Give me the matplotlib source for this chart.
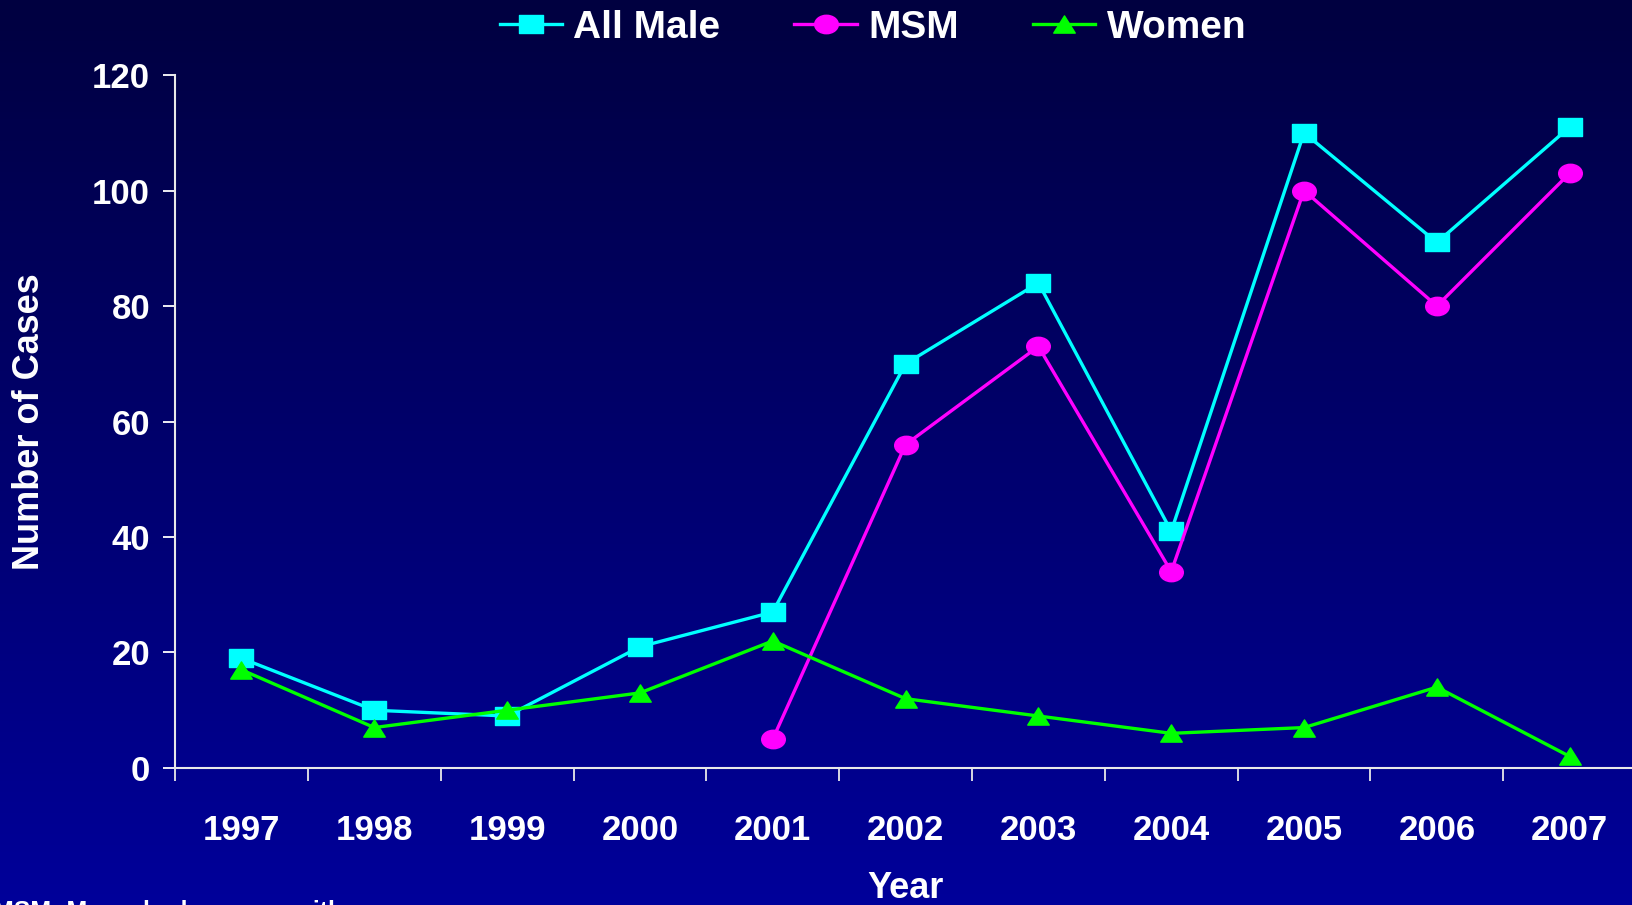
import numpy as np
import matplotlib
matplotlib.use("Agg")
import matplotlib.pyplot as plt
from matplotlib.path import Path
from matplotlib import font_manager

# data
years = ["1997", "1998", "1999", "2000", "2001", "2002", "2003", "2004", "2005", "2006", "2007"]
all_male = [19, 10, 9, 21, 27, 70, 84, 41, 110, 91, 111]
msm_years = ["2001", "2002", "2003", "2004", "2005", "2006", "2007"]
msm = [5, 56, 73, 34, 100, 80, 103]
women = [17, 7, 10, 13, 22, 12, 9, 6, 7, 14, 2]

names = [f.name for f in font_manager.fontManager.ttflist]
fam = ["Liberation Sans Narrow", "Liberation Sans", "DejaVu Sans"]
fam = [f for f in fam if f in names] or ["DejaVu Sans"]
plt.rcParams["font.family"] = fam
plt.rcParams["font.weight"] = "bold"

# slide markers are stretched sideways
circ = Path.unit_circle()
ellipse = Path(circ.vertices * np.array([1, 0.78]), circ.codes)
rect = Path([[-1, -0.77], [1, -0.77], [1, 0.77], [-1, 0.77], [-1, -0.77]],
            [Path.MOVETO, Path.LINETO, Path.LINETO, Path.LINETO, Path.CLOSEPOLY])
tri = Path([[-1, -0.8], [1, -0.8], [0, 0.8], [-1, -0.8]],
           [Path.MOVETO, Path.LINETO, Path.LINETO, Path.CLOSEPOLY])

fig = plt.figure(figsize=(16.33, 9.05), dpi=100)

# background gradient
bg = fig.add_axes([0, 0, 1, 1], zorder=-10)
grad = np.linspace(0, 1, 256).reshape(-1, 1)
top = np.array([0x00, 0x00, 0x40]) / 255
bot = np.array([0x00, 0x00, 0x9a]) / 255
img = top + (bot - top) * grad[:, :, None]
bg.imshow(img, aspect="auto", extent=[0, 1, 0, 1])
bg.axis("off")

ax = fig.add_axes([0.1072, 0.1514, 0.8947, 0.7657])
ax.patch.set_alpha(0)

x = np.arange(len(years))
xm = np.array([years.index(y) for y in msm_years])

ax.plot(x, all_male, color="#00ffff", lw=2.4, marker=rect, ms=17, label="All Male", clip_on=False)
ax.plot(xm, msm, color="#ff00ff", lw=2.4, marker=ellipse, ms=17, label="MSM", clip_on=False)
ax.plot(x, women, color="#00ff00", lw=2.4, marker=tri, ms=15.5, label="Women", clip_on=False)

ax.set_xlim(-0.5, len(years) - 0.5)
ax.set_ylim(0, 120)
ax.set_yticks(range(0, 121, 20))
ax.set_xticks(np.arange(len(years) + 1) - 0.5)
ax.set_xticklabels([])
ax.set_xticks(x, minor=True)
ax.set_xticklabels(years, minor=True)

for s in ["top", "right"]:
    ax.spines[s].set_visible(False)
for s in ["left", "bottom"]:
    ax.spines[s].set_color("#e8e8e8")
    ax.spines[s].set_linewidth(1.5)

ax.tick_params(axis="y", colors="white", length=9, width=1.3, labelsize=25, pad=9)
ax.tick_params(axis="x", which="major", colors="#e8e8e8", length=9, width=1.3)
ax.tick_params(axis="x", which="minor", colors="white", length=0, labelsize=25, pad=33)
for t in ax.get_yticklabels() + ax.get_xticklabels(minor=True):
    t.set_fontweight("bold")
    t.set_color("white")

ax.set_ylabel("Number of Cases", color="white", fontsize=26, fontweight="bold")
ax.yaxis.set_label_coords(-0.0875, 0.5)
ax.set_xlabel("Year", color="white", fontsize=26, fontweight="bold")
ax.xaxis.set_label_coords(0.5, -0.148)

leg = fig.legend(loc="center", bbox_to_anchor=(0.5346, 0.969), ncol=3, frameon=False,
                 handlelength=1.6, handletextpad=0.3, columnspacing=1.9,
                 prop={"weight": "bold", "size": 28})
for t in leg.get_texts():
    t.set_color("white")

fig.text(-0.004, 0.005, "MSM: Men who have sex with men", color="white", fontsize=18,
         ha="left", va="top")

fig.savefig("out.png", dpi=100)
